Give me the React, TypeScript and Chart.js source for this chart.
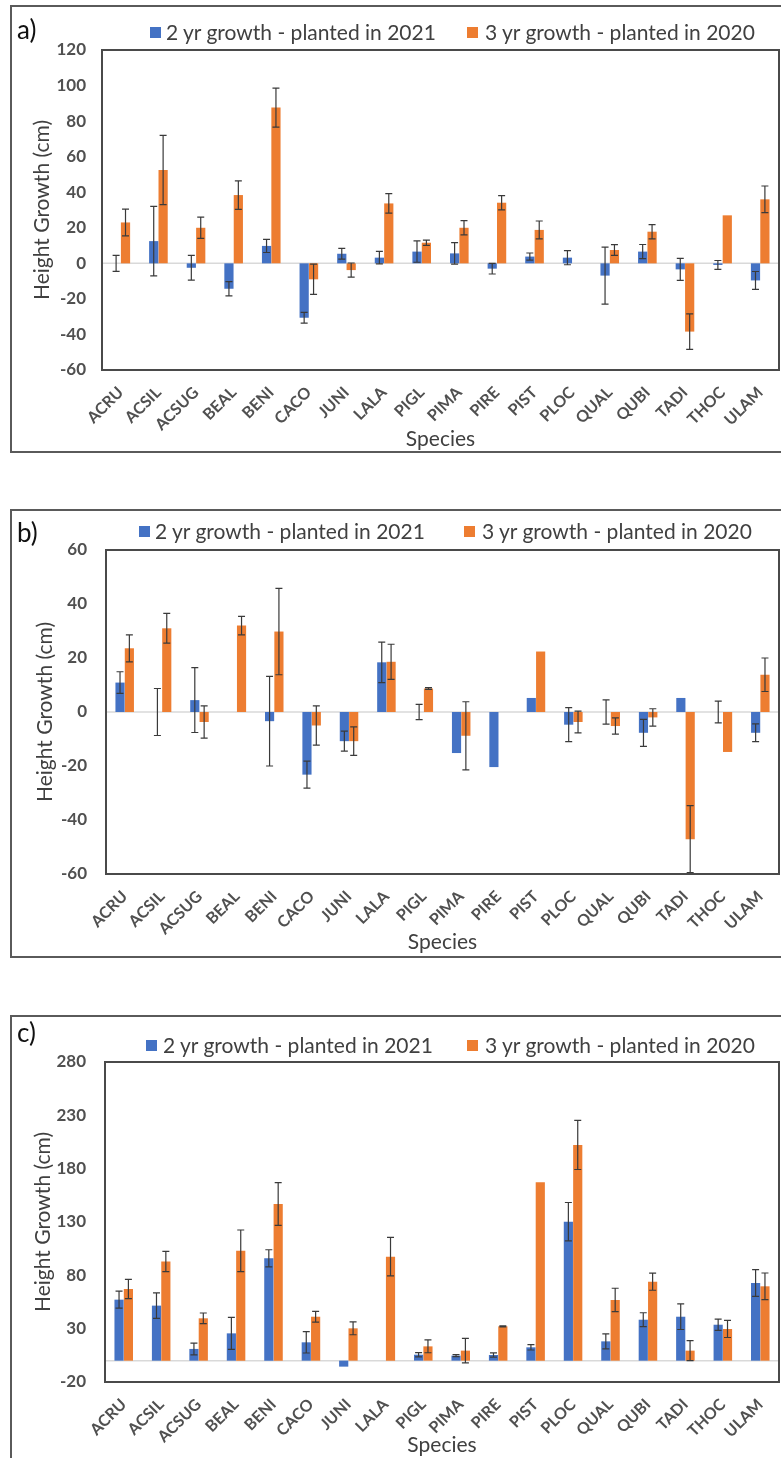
import React, { useEffect, useRef } from 'react';
import { Chart, registerables } from 'chart.js';
Chart.register(...registerables);

const FONT = 'Lato, "Open Sans", sans-serif';
const TEXT = '#404040';
const TICK = '#505050';
const BLUE = '#4472C4';
const ORANGE = '#ED7D31';
const PAGE_W = 781;

const species = ['ACRU', 'ACSIL', 'ACSUG', 'BEAL', 'BENI', 'CACO', 'JUNI', 'LALA', 'PIGL', 'PIMA', 'PIRE', 'PIST', 'PLOC', 'QUAL', 'QUBI', 'TADI', 'THOC', 'ULAM'];
const seriesNames = ['2 yr growth - planted in 2021', '3 yr growth - planted in 2020'];

// Panel a
const a2yr = [0, 12.5, -2.5, -14.3, 9.8, -30.6, 5.4, 3.2, 6.6, 5.6, -3, 3.8, 3.2, -6.9, 6.6, -3.4, -0.9, -9.6];
const a2yrErr = [4.5, 19.5, 7, 4, 3.7, 3, 3, 3.5, 6, 6, 3, 2, 4, 16, 4, 6.2, 2.5, 5];
const a3yr = [23, 52.5, 20, 38.4, 87.6, -9, -3.8, 33.7, 11.6, 20, 34.1, 18.8, 0, 7.5, 17.8, -38.4, 27, 36];
const a3yrErr = [7.5, 19.5, 6, 8, 11, 8.5, 4, 5.5, 1.5, 4, 4, 5, 0, 3, 4, 10, 0, 7.5];

// Panel b
const b2yr = [10.9, 0, 4.4, 0, -3.4, -23.2, -10.8, 18.4, 0, -15.2, -20.4, 5.2, -4.7, 0, -7.7, 5.2, 0, -7.7];
const b2yrErr = [4, 8.7, 12, 0, 16.6, 5, 3.7, 7.5, 2.8, 0, 0, 0, 6.3, 4.5, 5, 0, 4, 3.3];
const b3yr = [23.6, 31, -3.7, 32, 29.8, -5, -10.8, 18.6, 8.7, -8.8, 0, 22.4, -3.7, -5.2, -2, -47.1, -14.8, 13.8];
const b3yrErr = [5, 5.5, 6, 3.4, 16, 7.3, 5.3, 6.5, 0.3, 12.6, 0, 0, 4, 3, 3.2, 12.4, 0, 6.2];

// Panel c
const c2yr = [57.2, 51.6, 11, 25.6, 96, 17.2, -5.6, 0, 5.6, 4.7, 5.3, 12.5, 130.3, 18.1, 38.4, 41.2, 33.7, 72.8];
const c2yrErr = [8, 12, 5.5, 15, 8, 10, 0, 0, 2, 1, 2, 2.5, 18, 7, 6.5, 12, 5.3, 12.5];
const c3yr = [67.2, 93, 39.7, 103, 146.9, 41.2, 30.3, 97.5, 13.4, 9.4, 32.2, 167.2, 202.2, 56.9, 74, 9.4, 29.7, 69.7];
const c3yrErr = [9, 9.5, 5, 19.5, 20, 5, 6, 18, 6, 11.5, 0.5, 0, 23, 11, 8, 9.4, 8, 12.5];

type PanelSpec = {
  tag: string;
  boxTop: number;
  boxBottom: number;
  plot: { left: number; right: number; top: number; bottom: number };
  yMin: number;
  yMax: number;
  step: number;
  s2: number[];
  e2: number[];
  s3: number[];
  e3: number[];
  legendY: number;
  leg: [number, number, number, number];
  tagY: number;
  yTitleX: number;
  tickGap: number;
  speciesY: number;
};

const panels: PanelSpec[] = [
  {
    tag: 'a)', boxTop: 5, boxBottom: 453,
    plot: { left: 102, right: 779, top: 50, bottom: 370 },
    yMin: -60, yMax: 120, step: 20,
    s2: a2yr, e2: a2yrErr, s3: a3yr, e3: a3yrErr,
    legendY: 32, leg: [150, 166, 467, 485], tagY: 29, yTitleX: 42, tickGap: 16, speciesY: 439,
  },
  {
    tag: 'b)', boxTop: 509, boxBottom: 958,
    plot: { left: 106, right: 779, top: 550, bottom: 874 },
    yMin: -60, yMax: 60, step: 20,
    s2: b2yr, e2: b2yrErr, s3: b3yr, e3: b3yrErr,
    legendY: 531, leg: [139, 155, 464, 482], tagY: 532, yTitleX: 45, tickGap: 19, speciesY: 942,
  },
  {
    tag: 'c)', boxTop: 1015, boxBottom: 1458,
    plot: { left: 105, right: 779, top: 1062, bottom: 1382 },
    yMin: -20, yMax: 280, step: 50,
    s2: c2yr, e2: c2yrErr, s3: c3yr, e3: c3yrErr,
    legendY: 1045, leg: [146, 163, 467, 485], tagY: 1032, yTitleX: 43, tickGap: 19, speciesY: 1447,
  },
];

const framePlugin = {
  id: 'frame',
  beforeDatasetsDraw(chart: any) {
    const { ctx, chartArea, scales } = chart;
    const y0 = scales.y.getPixelForValue(0);
    ctx.save();
    ctx.strokeStyle = '#d9d9d9';
    ctx.lineWidth = 1.5;
    ctx.beginPath();
    ctx.moveTo(chartArea.left, y0);
    ctx.lineTo(chartArea.right, y0);
    ctx.stroke();
    ctx.restore();
  },
  afterDraw(chart: any) {
    const { ctx, chartArea } = chart;
    ctx.save();
    ctx.strokeStyle = '#4a4a4a';
    ctx.lineWidth = 2;
    ctx.strokeRect(chartArea.left, chartArea.top, chartArea.right - chartArea.left, chartArea.bottom - chartArea.top);
    ctx.restore();
  },
};

const errorBarPlugin = {
  id: 'errorBars',
  afterDatasetsDraw(chart: any) {
    const { ctx, scales } = chart;
    const y = scales.y;
    chart.data.datasets.forEach((ds: any, di: number) => {
      const meta = chart.getDatasetMeta(di);
      (ds.errors as number[]).forEach((e, i) => {
        if (!e) return;
        const v = ds.data[i] as number;
        const bar = meta.data[i];
        if (!bar) return;
        const x = bar.x;
        const yt = y.getPixelForValue(v + e);
        const yb = y.getPixelForValue(v - e);
        ctx.save();
        ctx.strokeStyle = '#3a3a3a';
        ctx.lineWidth = 1.2;
        ctx.beginPath();
        ctx.moveTo(x, yt);
        ctx.lineTo(x, yb);
        ctx.moveTo(x - 3.5, yt);
        ctx.lineTo(x + 3.5, yt);
        ctx.moveTo(x - 3.5, yb);
        ctx.lineTo(x + 3.5, yb);
        ctx.stroke();
        ctx.restore();
      });
    });
  },
};

function Panel({ p }: { p: PanelSpec }) {
  const ref = useRef<HTMLCanvasElement>(null);
  const h = p.boxBottom - p.boxTop;
  useEffect(() => {
    if (!ref.current) return;
    const xHeight = p.boxBottom - p.plot.bottom;
    const titleFont = 21;
    const lh = titleFont * 1.2;
    const chart = new Chart(ref.current, {
      type: 'bar',
      data: {
        labels: species,
        datasets: [
          { label: seriesNames[0], data: p.s2, backgroundColor: BLUE, borderWidth: 0, categoryPercentage: 0.5, barPercentage: 0.98, errors: p.e2 } as any,
          { label: seriesNames[1], data: p.s3, backgroundColor: ORANGE, borderWidth: 0, categoryPercentage: 0.5, barPercentage: 0.98, errors: p.e3 } as any,
        ],
      },
      options: {
        responsive: false,
        animation: false,
        devicePixelRatio: 1,
        layout: { padding: { top: p.plot.top - p.boxTop, right: PAGE_W - p.plot.right, left: 0, bottom: 0 } },
        plugins: { legend: { display: false }, tooltip: { enabled: false } },
        scales: {
          x: {
            grid: { display: false, drawTicks: false },
            border: { display: false },
            ticks: {
              autoSkip: false, minRotation: 45, maxRotation: 45, padding: 13,
              color: TICK, font: { family: FONT, size: 16, weight: 'bold' },
            },
            title: {
              display: true, text: 'Species', color: TEXT,
              font: { family: FONT, size: titleFont },
              padding: { top: 0, bottom: Math.max(0, p.boxBottom - p.speciesY - lh / 2) },
            },
            afterFit: (s: any) => { s.height = xHeight; s.paddingLeft = 0; s.paddingRight = 0; },
          },
          y: {
            min: p.yMin, max: p.yMax,
            grid: { display: false, drawTicks: false },
            border: { display: false },
            ticks: { stepSize: p.step, padding: p.tickGap, color: TICK, font: { family: FONT, size: 17, weight: 'bold' } },
            title: {
              display: true, text: 'Height Growth (cm)', color: TEXT,
              font: { family: FONT, size: titleFont },
              padding: { top: p.yTitleX - lh / 2, bottom: 0 },
            },
            afterFit: (s: any) => { s.width = p.plot.left; s.paddingTop = 0; s.paddingBottom = 0; },
          },
        },
      } as any,
      plugins: [framePlugin, errorBarPlugin],
    });
    return () => chart.destroy();
  }, [p]);

  const legText: React.CSSProperties = {
    position: 'absolute', height: 26, lineHeight: '26px', fontFamily: FONT, fontSize: 21,
    color: TEXT, whiteSpace: 'nowrap', top: p.legendY - 13,
  };
  const sq = (x: number, c: string): React.CSSProperties => ({
    position: 'absolute', left: x, top: p.legendY - 5, width: 11, height: 11, background: c,
  });
  return (
    <>
      <div style={{ position: 'absolute', left: 10, top: p.boxTop, width: 800, height: p.tag === 'c)' ? 600 : h, border: '2px solid #5a5a5a', boxSizing: 'border-box' }} />
      <canvas ref={ref} width={PAGE_W} height={h} style={{ position: 'absolute', left: 0, top: p.boxTop, width: PAGE_W, height: h }} />
      <div style={{ position: 'absolute', left: 17, top: p.tagY - 15, height: 30, lineHeight: '30px', fontFamily: FONT, fontSize: 26, color: '#111' }}>{p.tag}</div>
      <div style={sq(p.leg[0], BLUE)} />
      <div style={{ ...legText, left: p.leg[1] }}>{seriesNames[0]}</div>
      <div style={sq(p.leg[2], ORANGE)} />
      <div style={{ ...legText, left: p.leg[3] }}>{seriesNames[1]}</div>
    </>
  );
}

export default function App() {
  return (
    <div style={{ position: 'absolute', left: 0, top: 0, width: PAGE_W, height: 1458, overflow: 'hidden', background: '#fff' }}>
      {panels.map((p) => <Panel key={p.tag} p={p} />)}
    </div>
  );
}
